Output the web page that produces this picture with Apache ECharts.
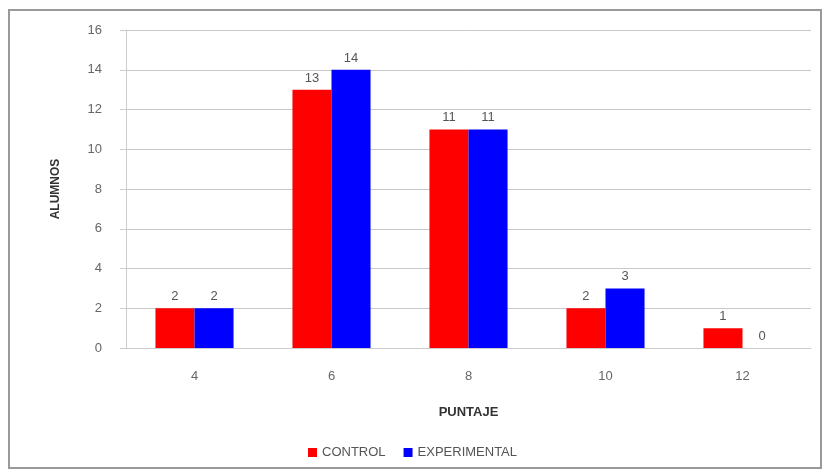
<!DOCTYPE html>
<meta charset="utf-8">
<html>
<head>
  <script src="https://cdn.jsdelivr.net/npm/echarts@6/dist/echarts.min.js"></script>
</head>
<body style="margin:0;background:#fff;">
  <div id="main" style="width: 825px;height:470px;"></div>
  <script type="text/javascript">

  var puntaje = ['4', '6', '8', '10', '12'];
  var control = [2, 13, 11, 2, 1];
  var experimental = [2, 14, 11, 3, 0];
  var yTicks = [0, 16, 2];

  var myChart = echarts.init(document.getElementById('main'));

  var labelStyle = {
    show: true,
    position: 'top',
    color: '#555',
    fontSize: 13,
    fontFamily: 'Liberation Sans'
  };

  option = {
    animation: false,
    textStyle: { fontFamily: 'Liberation Sans' },
    graphic: [{
      type: 'rect',
      shape: { x: 9, y: 10, width: 812, height: 458 },
      style: { fill: 'none', stroke: '#999', lineWidth: 2 }
    }],
    grid: {
      left: 126,
      right: 14,
      top: 30,
      bottom: 122
    },
    legend: {
      bottom: 6,
      left: 'center',
      itemWidth: 9,
      itemHeight: 9,
      itemGap: 18,
      icon: 'rect',
      textStyle: { color: '#555', fontSize: 13 },
      data: ['CONTROL', 'EXPERIMENTAL']
    },
    xAxis: {
      type: 'category',
      data: puntaje,
      name: 'PUNTAJE',
      nameLocation: 'middle',
      nameGap: 58,
      nameTextStyle: { fontWeight: 'bold', fontSize: 13, color: '#333' },
      axisLine: { lineStyle: { color: '#ccc' } },
      axisTick: { show: false },
      axisLabel: { color: '#666', fontSize: 13, margin: 22 }
    },
    yAxis: {
      type: 'value',
      min: yTicks[0],
      max: yTicks[1],
      interval: yTicks[2],
      name: 'ALUMNOS',
      nameLocation: 'middle',
      nameGap: 64,
      nameTextStyle: { fontWeight: 'bold', fontSize: 12, color: '#333' },
      axisLine: { show: true, lineStyle: { color: '#ccc' } },
      axisTick: { show: true, length: 6, lineStyle: { color: '#ccc' } },
      axisLabel: { color: '#666', fontSize: 13, margin: 24 },
      splitLine: { lineStyle: { color: '#c8c8c8' } }
    },
    series: [{
      name: 'CONTROL',
      type: 'bar',
      data: control,
      barGap: '0%',
      barCategoryGap: '43%',
      itemStyle: { color: '#ff0000' },
      label: labelStyle
    }, {
      name: 'EXPERIMENTAL',
      type: 'bar',
      data: experimental,
      itemStyle: { color: '#0000ff' },
      label: labelStyle
    }]
  };

  myChart.setOption(option);

  </script>
</body>
</html>
